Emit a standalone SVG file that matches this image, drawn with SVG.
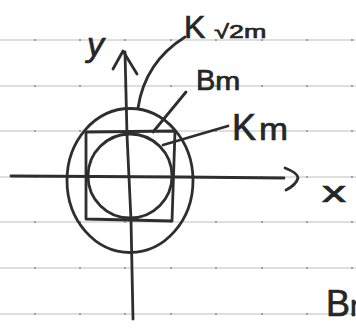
<svg xmlns="http://www.w3.org/2000/svg" width="356" height="328" viewBox="0 0 356 328">
<style>
.rule{stroke:#b9c2bd;stroke-width:1;fill:none}
.dot{fill:#9aa39e}
.ink{stroke:#2e2e2e;stroke-width:2.8;fill:none;stroke-linecap:round;stroke-linejoin:round}
.lbl{font-family:"Liberation Sans",Arial,sans-serif;fill:#262626;stroke:#262626;stroke-width:0.7}
</style>
<defs>
<g id="dots">
<rect class="dot" x="34" y="-1" width="2" height="2"/>
<rect class="dot" x="79" y="-1" width="2" height="2"/>
<rect class="dot" x="124" y="-1" width="2" height="2"/>
<rect class="dot" x="170" y="-1" width="2" height="2"/>
<rect class="dot" x="215" y="-1" width="2" height="2"/>
<rect class="dot" x="261" y="-1" width="2" height="2"/>
<rect class="dot" x="306" y="-1" width="2" height="2"/>
<rect class="dot" x="351" y="-1" width="2" height="2"/>
</g>
</defs>
<rect width="356" height="328" fill="#ffffff"/>
<g id="paper">
<path class="rule" d="M0,40H356M0,86H356M0,131H356M0,177H356M0,222H356M0,268H356M0,314H356"/>
<use href="#dots" y="40"/><use href="#dots" y="86"/><use href="#dots" y="131"/><use href="#dots" y="177"/><use href="#dots" y="222"/><use href="#dots" y="268"/><use href="#dots" y="314"/>
</g>
<g id="axis-y">
<path class="ink" d="M125,52 L127,135 L131,220 L133,319"/>
<path class="ink" d="M113,69 L123,51 L137,74"/>
<text class="lbl" x="87" y="56" font-size="34" font-style="italic">y</text>
</g>
<g id="axis-x">
<path class="ink" d="M11,176 L180,177 L284,178"/>
<path class="ink" d="M285,168 Q298,173 298,178 Q296,185 286,190"/>
<text class="lbl" x="322" y="202" font-size="30" textLength="24" lengthAdjust="spacingAndGlyphs">x</text>
</g>
<g id="K-sqrt2m">
<ellipse class="ink" cx="130" cy="180.5" rx="63" ry="72"/>
<text class="lbl" x="184" y="38" font-size="32">K<tspan font-size="19" dx="9" textLength="52" lengthAdjust="spacingAndGlyphs">√2m</tspan></text>
</g>
<g id="B-m">
<path class="ink" d="M86,132 L175,131 L172,221 L86,219 Z"/>
<text class="lbl" x="196" y="90" font-size="29">B<tspan font-size="25" textLength="25" lengthAdjust="spacingAndGlyphs">m</tspan></text>
</g>
<g id="K-m">
<circle class="ink" cx="130" cy="176" r="42"/>
<text class="lbl" x="232" y="140" font-size="36">K<tspan font-size="32" dx="3" textLength="29" lengthAdjust="spacingAndGlyphs">m</tspan></text>
</g>
<g id="connectors">
<path class="ink" d="M185,37 Q145,62 138,108"/>
<path class="ink" d="M186,92 L153,132"/>
<path class="ink" d="M228,126 L163,145"/>
</g>
<g id="note">
<text class="lbl" x="326" y="316" font-size="36">B<tspan font-size="30">m</tspan></text>
</g>
</svg>
